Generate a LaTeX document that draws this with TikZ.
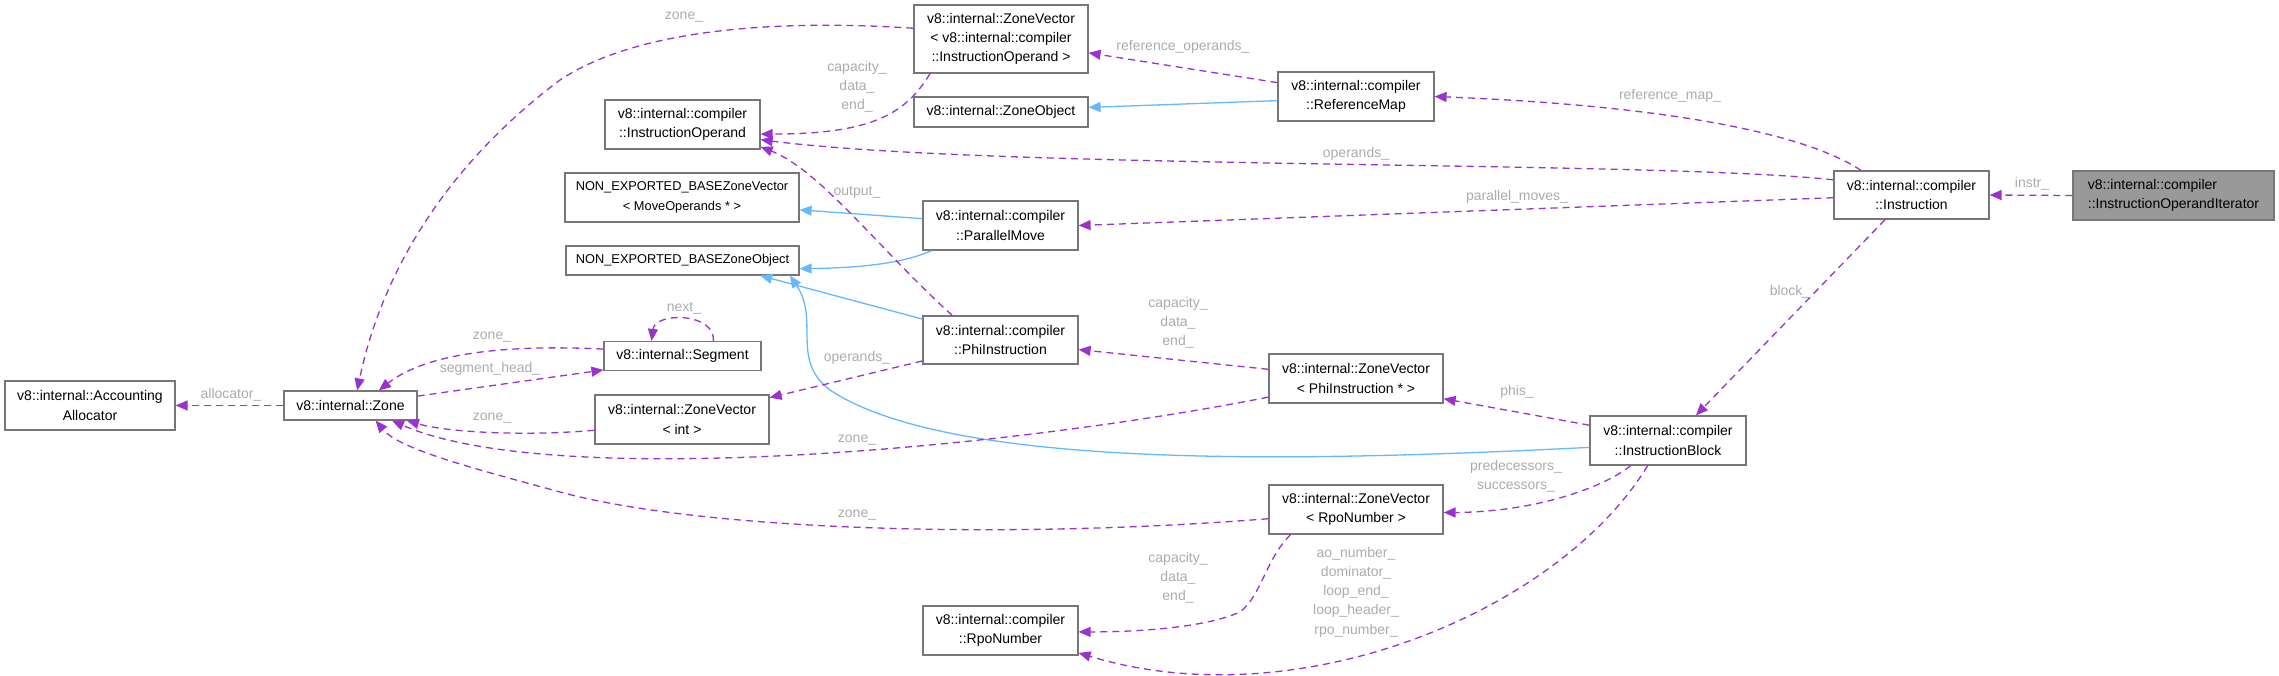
\documentclass[tikz,border=0pt]{standalone}
\usepackage{fontspec}
\setmainfont{Liberation Sans}
\usetikzlibrary{arrows.meta}
\definecolor{edgepurple}{HTML}{9A32CD}
\definecolor{inhblue}{HTML}{63B8FF}
\definecolor{boxline}{HTML}{777777}
\definecolor{boxfill}{HTML}{999999}
\definecolor{lblgray}{HTML}{ABABAB}

\begin{document}
\begin{tikzpicture}[x=1pt,y=-1pt,>={Triangle[length=12pt,width=10pt]},
    cls/.style={draw=boxline,fill=white,line width=1.2pt,inner sep=0pt,align=center,
      font=\fontsize{14}{19.3}\selectfont},
    uses/.style={->,draw=edgepurple,line width=1.3pt,dash pattern=on 7pt off 5pt},
    isa/.style={->,draw=inhblue,line width=1.3pt},
    lbl/.style={text=lblgray,align=center,inner sep=0pt,font=\fontsize{14}{19.3}\selectfont}]
        \useasboundingbox (0,0) rectangle (2279,675);
        % classes
        \node[cls,fill=boxfill,align=left,minimum width=201pt,minimum height=49pt] (iter) at (2173.5,195.5)
          {v8::internal::compiler\\::InstructionOperandIterator};
        \node[cls,minimum width=155pt,minimum height=48pt] (instr) at (1911.5,195) {v8::internal::compiler\\::Instruction};
        \node[cls,minimum width=156pt,minimum height=49pt] (refmap) at (1356,96.5) {v8::internal::compiler\\::ReferenceMap};
        \node[cls,minimum width=174pt,minimum height=68pt] (zvop) at (1001,39)
          {v8::internal::ZoneVector\\< v8::internal::compiler\\::InstructionOperand >};
        \node[cls,minimum width=174pt,minimum height=30pt] (zobj) at (1001,112) {v8::internal::ZoneObject};
        \node[cls,minimum width=155pt,minimum height=49pt] (iop) at (682.5,124.5) {v8::internal::compiler\\::InstructionOperand};
        \node[cls,minimum width=234pt,minimum height=49pt,font=\fontsize{12.8}{19.3}\selectfont] (nezv) at (682,197.5)
          {NON\_EXPORTED\_BASEZoneVector\\< MoveOperands * >};
        \node[cls,minimum width=233pt,minimum height=29pt,font=\fontsize{12.8}{19.3}\selectfont] (nezo) at (682.5,260.5)
          {NON\_EXPORTED\_BASEZoneObject};
        \node[cls,minimum width=155pt,minimum height=49pt] (pmove) at (1000.5,225.5) {v8::internal::compiler\\::ParallelMove};
        \node[cls,minimum width=155pt,minimum height=48pt] (phi) at (1000.5,340) {v8::internal::compiler\\::PhiInstruction};
        \node[cls,minimum width=157pt,minimum height=29pt] (seg) at (682.5,356) {v8::internal::Segment};
        \node[cls,minimum width=174pt,minimum height=49pt] (zvint) at (682,419.5) {v8::internal::ZoneVector\\< int >};
        \node[cls,minimum width=133pt,minimum height=29pt] (zone) at (350.5,405.5) {v8::internal::Zone};
        \node[cls,minimum width=170pt,minimum height=49pt] (alloc) at (90,405.5) {v8::internal::Accounting\\Allocator};
        \node[cls,minimum width=174pt,minimum height=49pt] (zvphi) at (1356,378.5) {v8::internal::ZoneVector\\< PhiInstruction * >};
        \node[cls,minimum width=156pt,minimum height=49pt] (iblock) at (1668,440.5) {v8::internal::compiler\\::InstructionBlock};
        \node[cls,minimum width=174pt,minimum height=49pt] (zvrpo) at (1356,509.5) {v8::internal::ZoneVector\\< RpoNumber >};
        \node[cls,minimum width=155pt,minimum height=49pt] (rpo) at (1000.5,630.5) {v8::internal::compiler\\::RpoNumber};

        % base classes
        \draw[isa] (refmap.183) -- (zobj.3);
        \draw[isa] (pmove.175) -- (nezv.-6);
        \draw[isa] (pmove.200) .. controls (900,265) and (850,268) .. (nezo.-4);
        \draw[isa] (phi.165) -- (nezo.-11);
        \draw[isa] (iblock.185) .. controls (1300,462) and (950,470) .. (830,390)
                   .. controls (790,360) and (820,320) .. (nezo.-8);

        % members
        \draw[uses] (iter.west) -- (instr.east);
        \draw[uses] (instr.154) .. controls (1800,130) and (1650,105) .. (refmap.east);
        \draw[uses] (instr.169) .. controls (1650,160) and (1000,170) .. (iop.-11);
        \draw[uses] (instr.182) -- (pmove.east);
        \draw[uses] (instr.223) -- (iblock.42);
        \draw[uses] (refmap.170) -- (zvop.-9);
        \draw[uses] (zvop.206) .. controls (905,115) and (870,134) .. (iop.-7);
        \draw[uses] (zvop.173) .. controls (820,22) and (650,20) .. (560,80)
                    .. controls (440,170) and (380,280) .. (zone.66);
        \draw[uses] (phi.153) .. controls (880,250) and (820,170) .. (iop.-16);
        \draw[uses] (phi.195) -- (zvint.14);
        \draw[uses] (zvphi.174) -- (phi.-7);
        \draw[uses] (zvphi.192) .. controls (1000,450) and (550,490) .. (zone.-20);
        \draw[uses] (iblock.169) -- (zvphi.-13);
        \draw[uses] (iblock.214) .. controls (1600,490) and (1530,512) .. (zvrpo.-2);
        \draw[uses] (iblock.231) .. controls (1560,610) and (1300,720) .. (rpo.-16);
        \draw[uses] (zvrpo.201) .. controls (1265,560) and (1262,595) .. (1240,612)
                    .. controls (1200,630) and (1120,632) .. (rpo.-1);
        \draw[uses] (zvrpo.186) .. controls (1000,540) and (700,530) .. (560,492)
                    .. controls (480,470) and (400,450) .. (zone.-31);
        \draw[uses] (zvint.187) .. controls (530,436) and (450,433) .. (zone.-15);
        \draw[uses] (seg.175) .. controls (520,345) and (430,350) .. (zone.28);
        \draw[uses] (zone.8) -- (seg.190);
        \draw[uses] (seg.26) .. controls (715,312) and (655,312) .. (seg.154);
        \draw[uses] (zone.west) -- (alloc.east);

        % member names
        \node[lbl] (linstr) at (2032,184) {instr\_};
        \node[lbl] (lrefmap) at (1670,96) {reference\_map\_};
        \node[lbl] (lops) at (1356,154) {operands\_};
        \node[lbl] (lpmoves) at (1517,197) {parallel\_moves\_};
        \node[lbl] (lblock) at (1790,292) {block\_};
        \node[lbl] (lrefops) at (1183,47) {reference\_operands\_};
        \node[lbl] (lcapop) at (857,87) {capacity\_\\data\_\\end\_};
        \node[lbl] (lzoneop) at (684,17) {zone\_};
        \node[lbl] (loutput) at (857,192) {output\_};
        \node[lbl] (lphiops) at (857,358) {operands\_};
        \node[lbl] (lcapphi) at (1178,323) {capacity\_\\data\_\\end\_};
        \node[lbl] (lzonephi) at (857,440) {zone\_};
        \node[lbl] (lphis) at (1517,392) {phis\_};
        \node[lbl] (lpred) at (1516,476) {predecessors\_\\successors\_};
        \node[lbl] (lnums) at (1356,592) {ao\_number\_\\dominator\_\\loop\_end\_\\loop\_header\_\\rpo\_number\_};
        \node[lbl] (lcaprpo) at (1178,578) {capacity\_\\data\_\\end\_};
        \node[lbl] (lzonerpo) at (857,515) {zone\_};
        \node[lbl] (lzoneint) at (492,418) {zone\_};
        \node[lbl] (lzoneseg) at (492,337) {zone\_};
        \node[lbl] (lseghead) at (490,369) {segment\_head\_};
        \node[lbl] (lnext) at (684,308) {next\_};
        \node[lbl] (lalloc) at (231,395) {allocator\_};
\end{tikzpicture}
\end{document}
